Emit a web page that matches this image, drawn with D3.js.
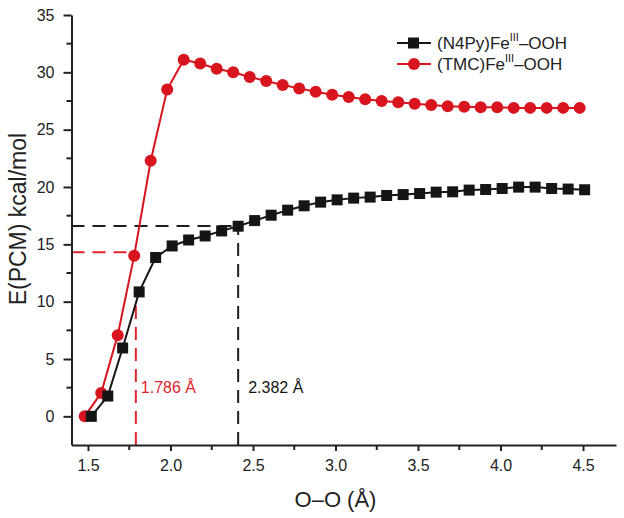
<!DOCTYPE html>
<html><head><meta charset="utf-8">
<script src="https://cdn.jsdelivr.net/npm/d3@7"></script>
<style>body{margin:0;background:#fff}svg{display:block}text{font-family:"Liberation Sans",Arial,sans-serif}</style>
</head><body><svg id="c" width="624" height="518"></svg>
<script>
const n4pyX = [1.52,1.62,1.71,1.81,1.91,2.01,2.11,2.21,2.31,2.41,2.51,2.61,2.71,2.81,2.91,3.01,3.11,3.21,3.31,3.41,3.51,3.61,3.71,3.81,3.91,4.01,4.11,4.21,4.31,4.41,4.51];
const n4pyY = [0,1.77,5.96,10.85,13.85,14.86,15.38,15.73,16.17,16.58,17.07,17.54,17.98,18.36,18.68,18.88,19.03,19.12,19.26,19.34,19.43,19.55,19.58,19.73,19.78,19.87,19.99,19.99,19.87,19.82,19.76];
const tmcX = [1.48,1.58,1.68,1.78,1.88,1.98,2.08,2.18,2.28,2.38,2.48,2.58,2.68,2.78,2.88,2.98,3.08,3.18,3.28,3.38,3.48,3.58,3.68,3.78,3.88,3.98,4.08,4.18,4.28,4.38,4.48];
const tmcY = [0,2.04,7.08,14.01,22.29,28.5,31.1,30.77,30.31,30.0,29.6,29.25,28.9,28.6,28.3,28.05,27.85,27.65,27.5,27.4,27.25,27.15,27.05,27.0,26.95,26.95,26.9,26.9,26.9,26.9,26.9];
const xTicks = [1.5,2.0,2.5,3.0,3.5,4.0,4.5];
const xMinor = [1.75,2.25,2.75,3.25,3.75,4.25];
const yTicks = [0,5,10,15,20,25,30,35];
const yMinor = [2.5,7.5,12.5,17.5,22.5,27.5,32.5];
// annotation crossings: x, y of horizontal guide, top of vertical guide, label
const tmcCross = {x:1.79, y:14.3, top:10.3, label:"1.786 Å"};
const n4pyCross = {x:2.41, y:16.6, top:16.6, label:"2.382 Å"};

const RED = "#d8141e", BLK = "#151515", AX = "#222";
const svg = d3.select("#c");
const x = d3.scaleLinear().domain([1.4,4.7]).range([71.5,616]);
const y = d3.scaleLinear().domain([-2.5,35]).range([445,15]);

function guide(c, col){
  svg.append("line").attr("x1",x(1.4)).attr("x2",x(c.x)).attr("y1",y(c.y)).attr("y2",y(c.y))
    .attr("stroke",col).attr("stroke-width",2).attr("stroke-dasharray","13,8");
  svg.append("line").attr("x1",x(c.x)).attr("x2",x(c.x)).attr("y1",y(-2.5)).attr("y2",y(c.top))
    .attr("stroke",col).attr("stroke-width",2).attr("stroke-dasharray","13,8");
}
guide(n4pyCross, "#1e1e1e");
guide(tmcCross, "#e0242c");
svg.append("text").attr("x",x(tmcCross.x)+5).attr("y",y(2.56)).attr("dy","0.36em")
  .attr("fill","#e0242c").attr("font-size",16).text(tmcCross.label);
svg.append("text").attr("x",x(n4pyCross.x)+10).attr("y",y(2.56)).attr("dy","0.36em")
  .attr("fill",BLK).attr("font-size",16).text(n4pyCross.label);

// axes
const xa = svg.append("g").attr("transform",`translate(0,${y(-2.5)})`);
xa.call(d3.axisBottom(x).tickValues(xTicks).tickFormat(d3.format(".1f")).tickSize(6).tickSizeOuter(0));
xa.append("g").selectAll("line").data(xMinor).join("line").attr("x1",d=>x(d)).attr("x2",d=>x(d)).attr("y1",0).attr("y2",5).attr("stroke",AX).attr("stroke-width",2);
const ya = svg.append("g").attr("transform",`translate(${x(1.4)},0)`);
ya.call(d3.axisLeft(y).tickValues(yTicks).tickSize(8).tickSizeOuter(0));
ya.append("g").selectAll("line").data(yMinor).join("line").attr("y1",d=>y(d)).attr("y2",d=>y(d)).attr("x1",0).attr("x2",-5).attr("stroke",AX).attr("stroke-width",2);
[xa,ya].forEach(g=>{
  g.select(".domain").attr("stroke",AX).attr("stroke-width",2);
  g.selectAll(".tick line").attr("stroke",AX).attr("stroke-width",2);
  g.selectAll(".tick text").attr("font-size",16).attr("fill","#222").attr("font-family","Liberation Sans, Arial, sans-serif");
});
xa.selectAll(".tick text").attr("y",26).attr("dy",0);
ya.selectAll(".tick text").attr("x",-17);

svg.append("text").attr("x",x(3.0)).attr("y",507).attr("text-anchor","middle").attr("font-size",22).attr("fill","#222").text("O–O (Å)");
svg.append("text").attr("transform",`translate(26,${y(17.2)}) rotate(-90)`).attr("text-anchor","middle").attr("font-size",23).attr("fill","#222").text("E(PCM) kcal/mol");

// series
const line = d3.line().x(d=>x(d[0])).y(d=>y(d[1]));
const n4 = n4pyX.map((v,i)=>[v,n4pyY[i]]);
const tm = tmcX.map((v,i)=>[v,tmcY[i]]);
svg.append("path").datum(tm).attr("d",line).attr("fill","none").attr("stroke",RED).attr("stroke-width",2);
svg.append("g").selectAll("circle").data(tm).join("circle").attr("cx",d=>x(d[0])).attr("cy",d=>y(d[1])).attr("r",6).attr("fill",RED);
svg.append("path").datum(n4).attr("d",line).attr("fill","none").attr("stroke",BLK).attr("stroke-width",2);
svg.append("g").selectAll("rect").data(n4).join("rect").attr("x",d=>x(d[0])-5.5).attr("y",d=>y(d[1])-5.5).attr("width",11).attr("height",11).attr("fill",BLK);

// legend
const leg = [{name:"(N4Py)Fe",col:BLK,shape:"sq"},{name:"(TMC)Fe",col:RED,shape:"ci"}];
leg.forEach((l,i)=>{
  const ly = 43 + i*21;
  svg.append("line").attr("x1",397).attr("x2",431).attr("y1",ly).attr("y2",ly).attr("stroke",l.col).attr("stroke-width",2);
  if(l.shape==="sq") svg.append("rect").attr("x",408).attr("y",ly-5.5).attr("width",11).attr("height",11).attr("fill",l.col);
  else svg.append("circle").attr("cx",414).attr("cy",ly).attr("r",6).attr("fill",l.col);
  const t = svg.append("text").attr("x",437).attr("y",ly).attr("dy","0.36em").attr("font-size",17).attr("fill","#222");
  t.append("tspan").text(l.name);
  t.append("tspan").attr("font-size",11).attr("dy","-0.75em").text("III");
  t.append("tspan").attr("dy","0.49em").text("–OOH");
});
</script></body></html>
